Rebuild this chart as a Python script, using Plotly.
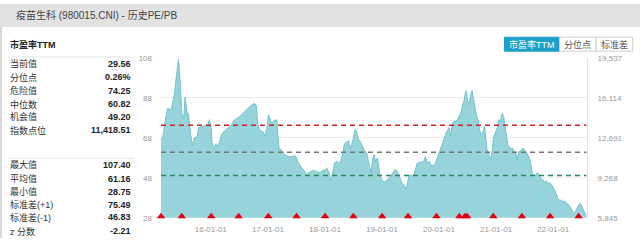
import plotly.graph_objects as go

# ---------------- data ----------------
dates = [
    "2015-02-16","2015-02-27","2015-03-20","2015-03-31","2015-04-22","2015-05-02","2015-05-13","2015-05-24",
    "2015-06-08","2015-06-20","2015-06-29","2015-07-12","2015-07-20","2015-08-02","2015-08-11","2015-08-23",
    "2015-09-05","2015-09-18","2015-10-05","2015-10-14","2015-10-31","2015-11-21","2015-12-13","2015-12-23",
    "2016-01-03","2016-01-09","2016-01-20","2016-02-04","2016-02-15","2016-02-25","2016-03-11","2016-03-29",
    "2016-04-19","2016-05-11","2016-06-01","2016-06-22","2016-07-14","2016-08-04","2016-08-25","2016-09-16",
    "2016-10-07","2016-10-18","2016-10-28","2016-11-08","2016-11-30","2016-12-13","2016-12-24",
    "2017-01-04","2017-01-14","2017-01-25","2017-02-04","2017-02-15","2017-02-26","2017-03-04","2017-03-13",
    "2017-03-30","2017-04-10","2017-04-20","2017-05-12","2017-06-02","2017-06-24","2017-07-04","2017-07-15",
    "2017-08-05","2017-08-26","2017-09-06","2017-09-27","2017-10-19","2017-11-09","2017-12-01","2017-12-22",
    "2018-01-02","2018-01-12","2018-01-27","2018-02-05","2018-02-18","2018-03-03","2018-03-17","2018-04-08",
    "2018-04-23","2018-05-06","2018-05-21","2018-06-01","2018-06-11","2018-06-26","2018-07-13","2018-07-24",
    "2018-08-03","2018-08-18","2018-09-05","2018-09-26","2018-10-11","2018-10-24","2018-11-02","2018-11-12",
    "2018-11-20","2018-12-01","2018-12-08","2018-12-16","2018-12-29",
    "2019-01-13","2019-01-28","2019-02-10","2019-02-25","2019-03-12","2019-03-25","2019-04-09","2019-04-20",
    "2019-04-30","2019-05-11","2019-05-26","2019-06-06","2019-06-14","2019-06-23","2019-07-03","2019-07-14",
    "2019-07-25","2019-08-04","2019-08-15","2019-09-05","2019-09-26","2019-10-07","2019-10-18","2019-11-02",
    "2019-11-15","2019-11-30","2019-12-11","2019-12-21",
    "2020-01-01","2020-01-11","2020-01-22","2020-02-02","2020-02-13","2020-02-23","2020-03-05","2020-03-16",
    "2020-03-26","2020-04-06","2020-04-17","2020-04-28","2020-05-09","2020-05-20","2020-05-30","2020-06-10",
    "2020-06-17","2020-06-23","2020-07-02","2020-07-12","2020-07-23","2020-07-31","2020-08-09","2020-08-19",
    "2020-08-30","2020-09-10","2020-09-16","2020-09-27","2020-10-08","2020-10-19","2020-10-25","2020-11-03",
    "2020-11-15","2020-11-26","2020-12-07","2020-12-15","2020-12-28",
    "2021-01-08","2021-01-19","2021-01-29","2021-02-09","2021-02-18","2021-02-26","2021-03-07","2021-03-18",
    "2021-03-28","2021-04-08","2021-04-18","2021-04-29","2021-05-10","2021-05-16","2021-05-27","2021-06-11",
    "2021-06-22","2021-07-02","2021-07-13","2021-07-23","2021-08-03","2021-08-14","2021-08-20","2021-08-31",
    "2021-09-10","2021-09-25","2021-10-06","2021-10-17","2021-10-27","2021-11-07","2021-11-18","2021-11-28",
    "2021-12-09","2021-12-20","2021-12-31",
    "2022-01-11","2022-01-21","2022-02-01","2022-02-12","2022-02-22","2022-03-05","2022-03-16","2022-03-26",
    "2022-04-06","2022-04-17","2022-04-27","2022-05-08","2022-05-19","2022-05-30","2022-06-10","2022-06-20",
    "2022-07-01","2022-07-12","2022-07-22","2022-08-02",
]
pe_ttm = [
    67.5,68.0,78.7,82.7,82.0,85.2,90.0,98.0,
    107.4,94.8,80.0,78.0,88.4,81.1,80.0,70.7,
    64.2,68.0,68.5,73.1,73.5,74.0,74.5,77.1,
    72.5,65.8,62.6,65.0,63.5,65.8,69.8,71.5,
    73.0,74.5,77.0,78.0,79.5,81.1,82.7,84.3,
    85.2,84.3,74.9,71.8,71.0,69.0,72.3,
    79.5,77.9,74.7,76.3,76.8,77.1,70.7,62.6,
    61.8,60.2,59.4,58.6,58.6,59.1,57.8,55.4,
    53.0,50.5,49.7,51.0,51.7,51.0,50.5,52.1,
    51.3,53.0,50.5,46.5,49.7,55.4,56.2,55.4,
    59.4,65.0,65.8,66.6,62.6,65.8,72.3,70.7,
    67.4,65.8,62.6,60.2,54.6,50.5,57.5,59.5,
    56.2,57.8,55.4,50.5,47.3,
    45.7,46.5,47.3,48.9,50.5,52.1,51.3,48.9,
    47.3,44.9,44.1,42.0,45.7,48.9,49.7,48.9,
    49.7,53.0,55.4,55.8,56.2,58.6,55.4,56.2,
    53.7,54.6,55.4,57.8,
    60.2,62.6,65.8,68.2,69.9,71.5,73.1,69.0,
    74.7,76.3,76.3,77.1,78.7,80.3,84.3,86.8,
    90.0,91.6,86.8,84.3,90.0,91.6,87.6,82.7,
    78.7,76.3,72.3,69.9,70.7,73.9,68.2,62.6,
    59.4,57.0,61.8,68.2,70.7,
    73.1,77.1,76.3,80.3,78.7,74.7,69.0,64.2,
    63.4,62.6,62.6,61.0,59.4,57.0,61.0,61.8,
    62.9,61.8,61.0,59.4,57.8,53.7,50.5,48.9,
    49.7,50.5,48.9,47.3,47.3,45.7,46.5,44.9,
    45.7,44.9,43.3,
    41.7,40.1,37.7,36.8,36.8,36.0,36.5,35.2,
    34.9,33.6,32.0,31.2,30.4,32.0,33.6,35.2,
    34.4,32.0,30.4,29.56,
]
marker_dates = [
    "2015-02-16","2015-06-29","2016-01-04","2016-06-27","2017-01-03","2017-07-03",
    "2018-01-02","2018-07-02","2019-01-02","2019-06-17","2019-12-16","2020-05-11",
    "2020-06-15","2020-06-29","2020-12-14","2021-06-15","2021-12-13","2022-06-13",
]
danger_value = 74.25
median_value = 60.82
chance_value = 49.20

pe_ticks = [28, 48, 68, 88, 108]
index_ticks = [5845, 9268, 12691, 16114, 19537]
index_tick_text = ["5,845", "9,268", "12,691", "16,114", "19,537"]

stats_top_labels = ["当前值", "分位点", "危险值", "中位数", "机会值", "指数点位"]
stats_top_values = ["29.56", "0.26%", "74.25", "60.82", "49.20", "11,418.51"]
stats_bot_labels = ["最大值", "平均值", "最小值", "标准差(+1)", "标准差(-1)", "z 分数"]
stats_bot_values = ["107.40", "61.16", "28.75", "75.49", "46.83", "-2.21"]

title_text = "疫苗生科 (980015.CNI) - 历史PE/PB"
section_title = "市盈率TTM"
button_labels = ["市盈率TTM", "分位点", "标准差"]

# ---------------- figure ----------------
W, H = 640, 243
FONT = "Helvetica Neue, Arial, Liberation Sans, Noto Sans CJK SC, sans-serif"


def px(x):
    return x / W


def py(y):
    return 1 - y / H


fig = go.Figure()

fig.add_trace(go.Scatter(
    x=dates, y=pe_ttm, mode="lines",
    line=dict(color="#72c3ce", width=1),
    fill="tozeroy", fillcolor="#97d3db",
    hoverinfo="skip", showlegend=False,
))

# reference lines
for val, col in [(danger_value, "#c8232c"), (median_value, "#777777"), (chance_value, "#2a8760")]:
    fig.add_trace(go.Scatter(
        x=[dates[0], dates[-1]], y=[val, val], mode="lines",
        line=dict(color=col, width=1.5, dash="5px,4px"),
        hoverinfo="skip", showlegend=False,
    ))

y_lo, y_hi = pe_ticks[0], pe_ticks[-1]
fig.add_trace(go.Scatter(
    x=marker_dates, y=[y_lo + 0.7] * len(marker_dates), mode="markers",
    marker=dict(symbol="triangle-up", size=7.5, color="#e3000f"),
    cliponaxis=False, hoverinfo="skip", showlegend=False,
))

# invisible trace to carry the right axis
fig.add_trace(go.Scatter(
    x=[dates[0]], y=[index_ticks[0]], yaxis="y2", mode="markers",
    marker=dict(opacity=0), hoverinfo="skip", showlegend=False,
))

x0p, x1p = 161, 587
y0p, y1p = 56, 222

fig.update_layout(
    width=W, height=H, margin=dict(l=0, r=0, t=0, b=0),
    paper_bgcolor="white", plot_bgcolor="white",
    font=dict(family=FONT, color="#333"),
    xaxis=dict(
        domain=[px(x0p), px(x1p)], type="date",
        range=["2015-02-16", "2022-08-06"],
        tickformat="%y-%m-%d", dtick="M12", tick0="2016-01-01",
        showgrid=False, zeroline=False, showline=False,
        tickfont=dict(size=8, color="#999"), ticks="", ticklabelstandoff=5,
    ),
    yaxis=dict(
        domain=[py(y1p), py(y0p)], range=[y_lo, y_hi],
        tickvals=pe_ticks, showgrid=True, gridcolor="#ececec", gridwidth=1,
        zeroline=False, showline=False,
        tickfont=dict(size=8, color="#999"), ticks="", ticklabelstandoff=8,
    ),
    yaxis2=dict(
        overlaying="y", side="right", range=[index_ticks[0], index_ticks[-1]],
        tickvals=index_ticks, ticktext=index_tick_text, showgrid=False,
        zeroline=False, showline=True, linecolor="#e4e4e4", linewidth=1,
        tickfont=dict(size=8, color="#999"), ticks="", ticklabelstandoff=8,
    ),
)

shapes = []
annotations = []

# header bar
shapes.append(dict(type="rect", xref="paper", yref="paper", x0=0, x1=1, y0=py(24), y1=1,
                   fillcolor="#e2e2e2", line=dict(width=0), layer="below"))
shapes.append(dict(type="rect", xref="paper", yref="paper", x0=0, x1=px(2), y0=0, y1=py(24),
                   fillcolor="#d8d8d8", line=dict(width=0), layer="below"))
annotations.append(dict(text=title_text, xref="paper", yref="paper", x=px(14), y=py(11.5),
                        xanchor="left", yanchor="middle", showarrow=False,
                        font=dict(size=10, color="#444")))

# section title
annotations.append(dict(text="<b>%s</b>" % section_title, xref="paper", yref="paper",
                        x=px(8), y=py(42), xanchor="left", yanchor="middle", showarrow=False,
                        font=dict(size=9, color="#222")))

# separators
for yy in (55, 160):
    shapes.append(dict(type="line", xref="paper", yref="paper", x0=px(8), x1=px(134),
                       y0=py(yy), y1=py(yy), line=dict(color="#e6e6e6", width=1)))

top_rows = [62.3, 76.3, 90, 104, 117.3, 131]
bot_rows = [166.7, 181.3, 195, 208.7, 221.7, 236]
for labels, values, rows in [(stats_top_labels, stats_top_values, top_rows),
                             (stats_bot_labels, stats_bot_values, bot_rows)]:
    for lab, val, yy in zip(labels, values, rows):
        annotations.append(dict(text=lab, xref="paper", yref="paper", x=px(8), y=py(yy),
                                xanchor="left", yanchor="middle", showarrow=False,
                                font=dict(size=9, color="#333")))
        annotations.append(dict(text="<b>%s</b>" % val, xref="paper", yref="paper", x=px(133), y=py(yy),
                                xanchor="right", yanchor="middle", showarrow=False,
                                font=dict(size=9, color="#222")))

# buttons
btn_x = [504.5, 559.5, 596, 632.7]
for i, lab in enumerate(button_labels):
    active = i == 0
    shapes.append(dict(type="rect", xref="paper", yref="paper",
                       x0=px(btn_x[i]), x1=px(btn_x[i + 1]), y0=py(49), y1=py(34.5),
                       fillcolor="#1ba1c9" if active else "white",
                       line=dict(color="#1ba1c9" if active else "#cfcfcf", width=1)))
    annotations.append(dict(text=lab, xref="paper", yref="paper",
                            x=px((btn_x[i] + btn_x[i + 1]) / 2), y=py(41.8),
                            xanchor="center", yanchor="middle", showarrow=False,
                            font=dict(size=9, color="white" if active else "#555")))

fig.update_layout(shapes=shapes, annotations=annotations)

fig.write_html("out.html")
